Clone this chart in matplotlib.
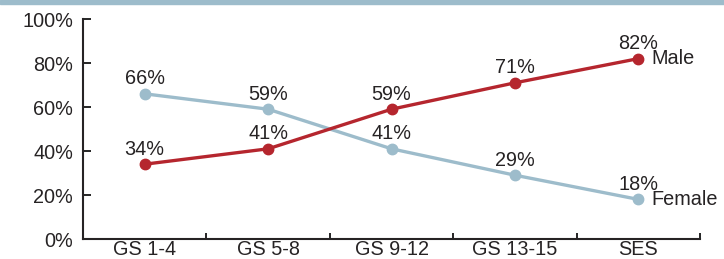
import matplotlib.pyplot as plt
from matplotlib.patches import Rectangle

# Datos del grafico
categorias = ["GS 1-4", "GS 5-8", "GS 9-12", "GS 13-15", "SES"]
male = [34, 41, 59, 71, 82]
female = [66, 59, 41, 29, 18]
yticks = [0, 20, 40, 60, 80, 100]

rojo = "#b5262e"
azul = "#9dbccb"
texto = "#262324"

plt.rcParams["font.family"] = ["Liberation Sans", "DejaVu Sans"]

fig = plt.figure(figsize=(7.24, 2.59), dpi=100)
ax = fig.add_axes([0.1146, 0.0772, 0.8524, 0.8494])

# banda azul arriba
fig.patches.append(Rectangle((0, 0.985), 1, 0.015, transform=fig.transFigure,
                             color=azul, zorder=0))

x = list(range(len(categorias)))
ax.plot(x, female, color=azul, linewidth=2.4, marker="o", markersize=7.5, zorder=3)
ax.plot(x, male, color=rojo, linewidth=2.4, marker="o", markersize=7.5, zorder=4)

for i in x:
    ax.annotate(f"{male[i]}%", (i, male[i]), xytext=(0, 4), textcoords="offset points",
                ha="center", va="bottom", fontsize=14.3, color=texto)
    ax.annotate(f"{female[i]}%", (i, female[i]), xytext=(0, 4), textcoords="offset points",
                ha="center", va="bottom", fontsize=14.3, color=texto)

ax.annotate("Male", (x[-1], male[-1]), xytext=(9, 0), textcoords="offset points",
            ha="left", va="center", fontsize=14.3, color=texto)
ax.annotate("Female", (x[-1], female[-1]), xytext=(9, 0), textcoords="offset points",
            ha="left", va="center", fontsize=14.3, color=texto)

ax.set_xlim(-0.5, len(categorias) - 0.5)
ax.set_ylim(0, 100)
ax.set_yticks(yticks)
ax.set_yticklabels([f"{v}%" for v in yticks], fontsize=14.3, color=texto)
ax.set_xticks(x)
ax.set_xticklabels(categorias, fontsize=14.3, color=texto)
ax.tick_params(axis="x", which="major", length=0, pad=1)
ax.set_xticks([i + 0.5 for i in x], minor=True)
ax.tick_params(axis="x", which="minor", direction="in", length=4, width=1.2)
ax.tick_params(axis="y", direction="in", length=6, width=1.2, pad=7)

for s in ["top", "right"]:
    ax.spines[s].set_visible(False)
for s in ["left", "bottom"]:
    ax.spines[s].set_linewidth(1.5)
    ax.spines[s].set_color(texto)

fig.savefig("out.png", dpi=100)
